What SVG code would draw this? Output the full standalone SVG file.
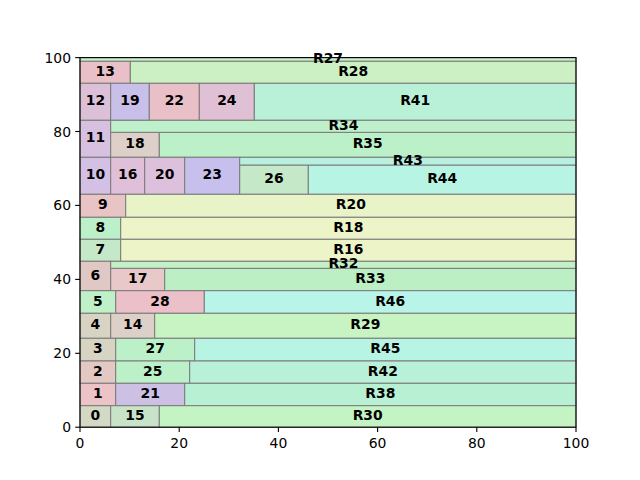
<svg xmlns="http://www.w3.org/2000/svg" width="640" height="480" viewBox="0 0 640 480">
<style>
.r{stroke:#7a7a7a;stroke-width:1}
.l{font-family:"DejaVu Sans",sans-serif;font-weight:bold;font-size:13.9px;text-anchor:middle;dominant-baseline:central;fill:#000;transform:translateY(-1.4px)}
.t{font-family:"DejaVu Sans",sans-serif;font-size:13.9px;fill:#000}
.tk{stroke:#000;stroke-width:1.1}
</style>
<rect width="640" height="480" fill="#fff"/>
<g id="cells">
<g id="R27"><rect class="r" x="80" y="57.6" width="496" height="3.7" fill="#c8f0c8"/></g>
<g id="n13"><rect class="r" x="80" y="61.3" width="50.3" height="22" fill="#e9c0c8"/><text class="l" x="105.2" y="72.3">13</text></g>
<g id="R28"><rect class="r" x="130.3" y="61.3" width="445.7" height="22" fill="#ccf0c4"/><text class="l" x="353.2" y="72.3">R28</text></g>
<g id="n12"><rect class="r" x="80" y="83.3" width="30.7" height="37" fill="#dcc0d8"/><text class="l" x="95.4" y="101.8">12</text></g>
<g id="n19"><rect class="r" x="110.7" y="83.3" width="38.6" height="37" fill="#c8c0e8"/><text class="l" x="130" y="101.8">19</text></g>
<g id="n22"><rect class="r" x="149.3" y="83.3" width="50" height="37" fill="#e9c0c8"/><text class="l" x="174.3" y="101.8">22</text></g>
<g id="n24"><rect class="r" x="199.3" y="83.3" width="55" height="37" fill="#e0c0d4"/><text class="l" x="226.8" y="101.8">24</text></g>
<g id="R41"><rect class="r" x="254.3" y="83.3" width="321.7" height="37" fill="#b8f0d8"/><text class="l" x="415.2" y="101.8">R41</text></g>
<g id="n11"><rect class="r" x="80" y="120.3" width="30.7" height="37" fill="#d8c0e0"/><text class="l" x="95.4" y="138.8">11</text></g>
<g id="n18"><rect class="r" x="110.7" y="132.3" width="48.6" height="25" fill="#dcd0c8"/><text class="l" x="135" y="144.8">18</text></g>
<g id="R35"><rect class="r" x="159.3" y="132.3" width="416.7" height="25" fill="#bcf0c8"/><text class="l" x="367.7" y="144.8">R35</text></g>
<g id="R34"><rect class="r" x="110.7" y="120.3" width="465.3" height="12" fill="#bff0cc"/><text class="l" x="343.4" y="126.3">R34</text></g>
<g id="n10"><rect class="r" x="80" y="157.3" width="30.7" height="37" fill="#d4c0e4"/><text class="l" x="95.4" y="175.8">10</text></g>
<g id="n16"><rect class="r" x="110.7" y="157.3" width="34" height="37" fill="#e0c0d8"/><text class="l" x="127.7" y="175.8">16</text></g>
<g id="n20"><rect class="r" x="144.7" y="157.3" width="40" height="37" fill="#dcc0dc"/><text class="l" x="164.7" y="175.8">20</text></g>
<g id="n23"><rect class="r" x="184.7" y="157.3" width="55" height="37" fill="#c8c0ec"/><text class="l" x="212.2" y="175.8">23</text></g>
<g id="n26"><rect class="r" x="239.7" y="165" width="68.6" height="29.3" fill="#c4e8c8"/><text class="l" x="274" y="179.6">26</text></g>
<g id="R44"><rect class="r" x="308.3" y="165" width="267.7" height="29.3" fill="#b8f4e4"/><text class="l" x="442.2" y="179.6">R44</text></g>
<g id="R43"><rect class="r" x="239.7" y="157.3" width="336.3" height="7.7" fill="#b8f0e0"/><text class="l" x="407.8" y="161.1">R43</text></g>
<g id="n9"><rect class="r" x="80" y="194.3" width="45.7" height="23" fill="#e8c4c4"/><text class="l" x="102.8" y="205.8">9</text></g>
<g id="R20"><rect class="r" x="125.7" y="194.3" width="450.3" height="23" fill="#e8f4c8"/><text class="l" x="350.8" y="205.8">R20</text></g>
<g id="n8"><rect class="r" x="80" y="217.3" width="40.7" height="22" fill="#bcf0c8"/><text class="l" x="100.3" y="228.3">8</text></g>
<g id="R18"><rect class="r" x="120.7" y="217.3" width="455.3" height="22" fill="#ecf4c8"/><text class="l" x="348.3" y="228.3">R18</text></g>
<g id="n7"><rect class="r" x="80" y="239.3" width="40.7" height="22" fill="#c4e8c8"/><text class="l" x="100.3" y="250.3">7</text></g>
<g id="R16"><rect class="r" x="120.7" y="239.3" width="455.3" height="22" fill="#ecf4c8"/><text class="l" x="348.3" y="250.3">R16</text></g>
<g id="n6"><rect class="r" x="80" y="261.3" width="30.7" height="29.4" fill="#e0c8c4"/><text class="l" x="95.4" y="276">6</text></g>
<g id="n17"><rect class="r" x="110.7" y="268.3" width="54" height="22.4" fill="#e8c8c8"/><text class="l" x="137.7" y="279.5">17</text></g>
<g id="R33"><rect class="r" x="164.7" y="268.3" width="411.3" height="22.4" fill="#bcf0c4"/><text class="l" x="370.3" y="279.5">R33</text></g>
<g id="R32"><rect class="r" x="110.7" y="261.3" width="465.3" height="7" fill="#c4f0c8"/><text class="l" x="343.4" y="264.8">R32</text></g>
<g id="n5"><rect class="r" x="80" y="290.7" width="35.7" height="22.6" fill="#c0f0c8"/><text class="l" x="97.8" y="302">5</text></g>
<g id="n28"><rect class="r" x="115.7" y="290.7" width="88.6" height="22.6" fill="#ecc0c8"/><text class="l" x="160" y="302">28</text></g>
<g id="R46"><rect class="r" x="204.3" y="290.7" width="371.7" height="22.6" fill="#b8f4e8"/><text class="l" x="390.2" y="302">R46</text></g>
<g id="n4"><rect class="r" x="80" y="313.3" width="30.7" height="25" fill="#d8d4c4"/><text class="l" x="95.4" y="325.8">4</text></g>
<g id="n14"><rect class="r" x="110.7" y="313.3" width="44" height="25" fill="#dcd0c8"/><text class="l" x="132.7" y="325.8">14</text></g>
<g id="R29"><rect class="r" x="154.7" y="313.3" width="421.3" height="25" fill="#c8f4c4"/><text class="l" x="365.3" y="325.8">R29</text></g>
<g id="n3"><rect class="r" x="80" y="338.3" width="35.7" height="22.7" fill="#d8d4c4"/><text class="l" x="97.8" y="349.6">3</text></g>
<g id="n27"><rect class="r" x="115.7" y="338.3" width="79" height="22.7" fill="#bcf0c8"/><text class="l" x="155.2" y="349.6">27</text></g>
<g id="R45"><rect class="r" x="194.7" y="338.3" width="381.3" height="22.7" fill="#b8f4e4"/><text class="l" x="385.3" y="349.6">R45</text></g>
<g id="n2"><rect class="r" x="80" y="361" width="35.7" height="22.3" fill="#e4c8c4"/><text class="l" x="97.8" y="372.1">2</text></g>
<g id="n25"><rect class="r" x="115.7" y="361" width="74" height="22.3" fill="#bcf0c8"/><text class="l" x="152.7" y="372.1">25</text></g>
<g id="R42"><rect class="r" x="189.7" y="361" width="386.3" height="22.3" fill="#b8f0d8"/><text class="l" x="382.8" y="372.1">R42</text></g>
<g id="n1"><rect class="r" x="80" y="383.3" width="35.7" height="22.4" fill="#ecc4c8"/><text class="l" x="97.8" y="394.5">1</text></g>
<g id="n21"><rect class="r" x="115.7" y="383.3" width="69" height="22.4" fill="#ccc0e4"/><text class="l" x="150.2" y="394.5">21</text></g>
<g id="R38"><rect class="r" x="184.7" y="383.3" width="391.3" height="22.4" fill="#b8f0d4"/><text class="l" x="380.3" y="394.5">R38</text></g>
<g id="n0"><rect class="r" x="80" y="405.7" width="30.7" height="21.5" fill="#d4d8c4"/><text class="l" x="95.4" y="416.4">0</text></g>
<g id="n15"><rect class="r" x="110.7" y="405.7" width="48.6" height="21.5" fill="#c8e4c8"/><text class="l" x="135" y="416.4">15</text></g>
<g id="R30"><rect class="r" x="159.3" y="405.7" width="416.7" height="21.5" fill="#c4f4c4"/><text class="l" x="367.7" y="416.4">R30</text></g>
</g>
<g id="R27label"><text class="l" x="328" y="59.4">R27</text></g>
<g id="axes">
<rect x="80" y="57.6" width="496" height="369.6" fill="none" stroke="#000" stroke-width="1.1"/>
<g class="tk">
<line x1="80" y1="427.2" x2="80" y2="432"/>
<line x1="179.2" y1="427.2" x2="179.2" y2="432"/>
<line x1="278.4" y1="427.2" x2="278.4" y2="432"/>
<line x1="377.6" y1="427.2" x2="377.6" y2="432"/>
<line x1="476.8" y1="427.2" x2="476.8" y2="432"/>
<line x1="576" y1="427.2" x2="576" y2="432"/>
<line x1="75.2" y1="427.2" x2="80" y2="427.2"/>
<line x1="75.2" y1="353.3" x2="80" y2="353.3"/>
<line x1="75.2" y1="279.4" x2="80" y2="279.4"/>
<line x1="75.2" y1="205.4" x2="80" y2="205.4"/>
<line x1="75.2" y1="131.5" x2="80" y2="131.5"/>
<line x1="75.2" y1="57.6" x2="80" y2="57.6"/>
</g>
<g class="t" text-anchor="middle">
<text x="80" y="448">0</text>
<text x="179.2" y="448">20</text>
<text x="278.4" y="448">40</text>
<text x="377.6" y="448">60</text>
<text x="476.8" y="448">80</text>
<text x="576" y="448">100</text>
</g>
<g class="t" text-anchor="end" dominant-baseline="central">
<text x="71" y="427.2">0</text>
<text x="71" y="353.3">20</text>
<text x="71" y="279.4">40</text>
<text x="71" y="205.4">60</text>
<text x="71" y="131.5">80</text>
<text x="71" y="57.6">100</text>
</g>
</g>
</svg>
